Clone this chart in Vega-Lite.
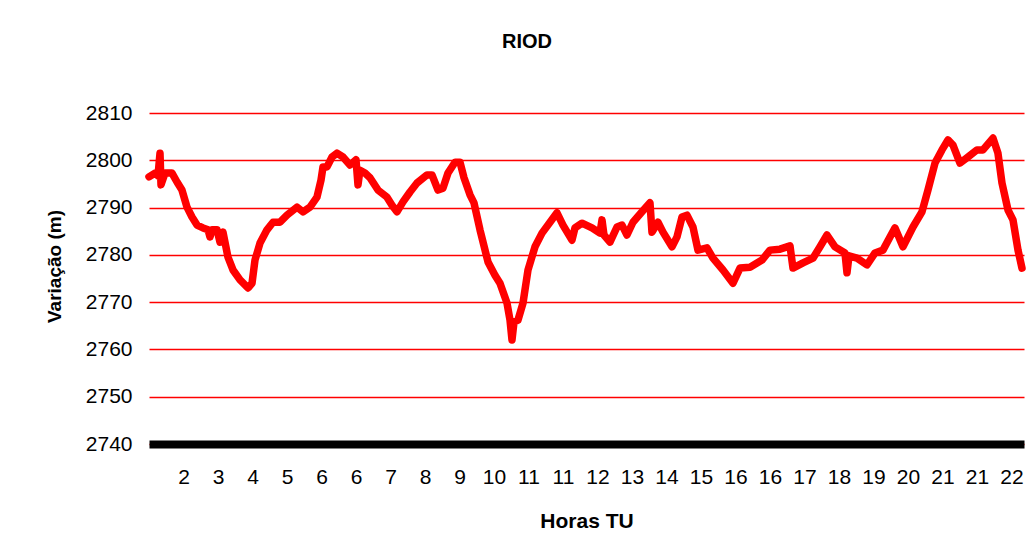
{
  "$schema": "https://vega.github.io/schema/vega-lite/v6.json",
  "width": 875,
  "height": 331,
  "autosize": {"type": "none"},
  "padding": {"left": 149, "top": 113, "right": 7, "bottom": 112},
  "background": "white",
  "config": {"view": {"stroke": null}, "font": "Liberation Sans"},
  "title": {"text": "RIOD", "fontSize": 20, "fontWeight": "bold", "font": "Liberation Sans", "color": "black", "anchor": "middle", "dx": -59.5, "baseline": "alphabetic", "offset": 34},
  "data": {"values": [
    {"hora": 1.820, "variacao": 2796.5},
    {"hora": 1.966, "variacao": 2797.3},
    {"hora": 2.039, "variacao": 2796.7},
    {"hora": 2.088, "variacao": 2801.5},
    {"hora": 2.112, "variacao": 2794.8},
    {"hora": 2.210, "variacao": 2797.3},
    {"hora": 2.380, "variacao": 2797.3},
    {"hora": 2.502, "variacao": 2795.4},
    {"hora": 2.623, "variacao": 2793.7},
    {"hora": 2.745, "variacao": 2790.1},
    {"hora": 2.867, "variacao": 2788.0},
    {"hora": 2.989, "variacao": 2786.3},
    {"hora": 3.135, "variacao": 2785.7},
    {"hora": 3.257, "variacao": 2785.3},
    {"hora": 3.305, "variacao": 2783.8},
    {"hora": 3.354, "variacao": 2785.3},
    {"hora": 3.476, "variacao": 2785.3},
    {"hora": 3.549, "variacao": 2782.7},
    {"hora": 3.622, "variacao": 2784.8},
    {"hora": 3.743, "variacao": 2779.5},
    {"hora": 3.865, "variacao": 2776.8},
    {"hora": 4.036, "variacao": 2774.7},
    {"hora": 4.230, "variacao": 2773.0},
    {"hora": 4.328, "variacao": 2774.0},
    {"hora": 4.401, "variacao": 2778.9},
    {"hora": 4.523, "variacao": 2782.5},
    {"hora": 4.693, "variacao": 2785.3},
    {"hora": 4.839, "variacao": 2786.9},
    {"hora": 5.010, "variacao": 2786.9},
    {"hora": 5.180, "variacao": 2788.4},
    {"hora": 5.424, "variacao": 2790.1},
    {"hora": 5.570, "variacao": 2789.1},
    {"hora": 5.740, "variacao": 2790.1},
    {"hora": 5.910, "variacao": 2792.2},
    {"hora": 6.008, "variacao": 2795.8},
    {"hora": 6.057, "variacao": 2798.6},
    {"hora": 6.154, "variacao": 2798.6},
    {"hora": 6.276, "variacao": 2800.7},
    {"hora": 6.397, "variacao": 2801.5},
    {"hora": 6.543, "variacao": 2800.7},
    {"hora": 6.714, "variacao": 2799.0},
    {"hora": 6.860, "variacao": 2800.1},
    {"hora": 6.909, "variacao": 2794.8},
    {"hora": 6.957, "variacao": 2797.9},
    {"hora": 7.079, "variacao": 2797.3},
    {"hora": 7.201, "variacao": 2796.3},
    {"hora": 7.396, "variacao": 2793.7},
    {"hora": 7.615, "variacao": 2792.2},
    {"hora": 7.737, "variacao": 2790.5},
    {"hora": 7.858, "variacao": 2789.1},
    {"hora": 8.004, "variacao": 2791.2},
    {"hora": 8.175, "variacao": 2793.3},
    {"hora": 8.345, "variacao": 2795.2},
    {"hora": 8.589, "variacao": 2796.9},
    {"hora": 8.710, "variacao": 2796.9},
    {"hora": 8.857, "variacao": 2793.7},
    {"hora": 8.978, "variacao": 2794.1},
    {"hora": 9.100, "variacao": 2797.3},
    {"hora": 9.271, "variacao": 2799.6},
    {"hora": 9.392, "variacao": 2799.6},
    {"hora": 9.490, "variacao": 2796.3},
    {"hora": 9.636, "variacao": 2792.7},
    {"hora": 9.733, "variacao": 2791.0},
    {"hora": 9.879, "variacao": 2785.3},
    {"hora": 10.074, "variacao": 2778.5},
    {"hora": 10.244, "variacao": 2775.7},
    {"hora": 10.366, "variacao": 2774.0},
    {"hora": 10.537, "variacao": 2769.8},
    {"hora": 10.610, "variacao": 2766.2},
    {"hora": 10.658, "variacao": 2762.0},
    {"hora": 10.707, "variacao": 2765.8},
    {"hora": 10.804, "variacao": 2766.2},
    {"hora": 10.926, "variacao": 2769.8},
    {"hora": 11.048, "variacao": 2776.8},
    {"hora": 11.218, "variacao": 2781.7},
    {"hora": 11.389, "variacao": 2784.6},
    {"hora": 11.584, "variacao": 2786.9},
    {"hora": 11.754, "variacao": 2788.9},
    {"hora": 11.900, "variacao": 2786.3},
    {"hora": 12.119, "variacao": 2783.1},
    {"hora": 12.192, "variacao": 2785.7},
    {"hora": 12.363, "variacao": 2786.7},
    {"hora": 12.606, "variacao": 2785.7},
    {"hora": 12.801, "variacao": 2784.6},
    {"hora": 12.850, "variacao": 2787.4},
    {"hora": 12.898, "variacao": 2784.2},
    {"hora": 13.044, "variacao": 2782.7},
    {"hora": 13.215, "variacao": 2785.9},
    {"hora": 13.337, "variacao": 2786.3},
    {"hora": 13.458, "variacao": 2784.2},
    {"hora": 13.604, "variacao": 2786.9},
    {"hora": 13.824, "variacao": 2789.1},
    {"hora": 14.018, "variacao": 2791.0},
    {"hora": 14.067, "variacao": 2784.8},
    {"hora": 14.213, "variacao": 2786.9},
    {"hora": 14.335, "variacao": 2784.8},
    {"hora": 14.554, "variacao": 2781.7},
    {"hora": 14.676, "variacao": 2783.8},
    {"hora": 14.798, "variacao": 2788.0},
    {"hora": 14.919, "variacao": 2788.4},
    {"hora": 15.065, "variacao": 2785.9},
    {"hora": 15.187, "variacao": 2781.0},
    {"hora": 15.406, "variacao": 2781.5},
    {"hora": 15.552, "variacao": 2779.3},
    {"hora": 15.796, "variacao": 2776.8},
    {"hora": 16.039, "variacao": 2774.0},
    {"hora": 16.210, "variacao": 2777.2},
    {"hora": 16.453, "variacao": 2777.4},
    {"hora": 16.746, "variacao": 2778.9},
    {"hora": 16.940, "variacao": 2781.0},
    {"hora": 17.184, "variacao": 2781.2},
    {"hora": 17.427, "variacao": 2781.9},
    {"hora": 17.500, "variacao": 2777.2},
    {"hora": 17.744, "variacao": 2778.3},
    {"hora": 17.987, "variacao": 2779.3},
    {"hora": 18.158, "variacao": 2781.7},
    {"hora": 18.328, "variacao": 2784.2},
    {"hora": 18.523, "variacao": 2781.7},
    {"hora": 18.766, "variacao": 2780.4},
    {"hora": 18.815, "variacao": 2776.2},
    {"hora": 18.864, "variacao": 2779.8},
    {"hora": 19.058, "variacao": 2779.3},
    {"hora": 19.302, "variacao": 2777.9},
    {"hora": 19.497, "variacao": 2780.4},
    {"hora": 19.691, "variacao": 2781.0},
    {"hora": 19.862, "variacao": 2783.8},
    {"hora": 19.984, "variacao": 2785.7},
    {"hora": 20.178, "variacao": 2781.7},
    {"hora": 20.422, "variacao": 2785.9},
    {"hora": 20.641, "variacao": 2789.1},
    {"hora": 20.787, "variacao": 2793.7},
    {"hora": 20.958, "variacao": 2799.4},
    {"hora": 21.128, "variacao": 2802.2},
    {"hora": 21.274, "variacao": 2804.3},
    {"hora": 21.396, "variacao": 2803.2},
    {"hora": 21.566, "variacao": 2799.4},
    {"hora": 21.761, "variacao": 2800.7},
    {"hora": 21.980, "variacao": 2802.2},
    {"hora": 22.126, "variacao": 2802.2},
    {"hora": 22.370, "variacao": 2804.7},
    {"hora": 22.491, "variacao": 2801.5},
    {"hora": 22.589, "variacao": 2795.2},
    {"hora": 22.735, "variacao": 2789.5},
    {"hora": 22.857, "variacao": 2787.4},
    {"hora": 22.979, "variacao": 2781.0},
    {"hora": 23.076, "variacao": 2777.2}
  ]},
  "mark": {"type": "line", "color": "#FF0000", "strokeWidth": 7.5, "strokeCap": "round", "strokeJoin": "round", "clip": false},
  "encoding": {
    "x": {
      "field": "hora", "type": "quantitative",
      "scale": {"domain": [1.82, 23.125], "nice": false, "zero": false},
      "axis": {
        "title": "Horas TU",
        "values": [2.66, 3.50, 4.34, 5.18, 6.02, 6.86, 7.70, 8.54, 9.38, 10.22, 11.06, 11.90, 12.74, 13.58, 14.42, 15.26, 16.10, 16.94, 17.78, 18.62, 19.46, 20.30, 21.14, 21.98, 22.82],
        "labelExpr": "'' + floor(datum.value)",
        "grid": false,
        "domain": true, "domainColor": "black", "domainWidth": 8,
        "ticks": false, "tickSize": 0,
        "labelPadding": 22.5, "labelFontSize": 21, "labelColor": "black", "labelFont": "Liberation Sans",
        "labelFlush": false, "labelOverlap": false,
        "titleFontSize": 21, "titleFontWeight": "bold", "titleColor": "black", "titleFont": "Liberation Sans",
        "titleY": 83, "titleBaseline": "alphabetic"
      }
    },
    "y": {
      "field": "variacao", "type": "quantitative",
      "scale": {"domain": [2740, 2810], "nice": false, "zero": false},
      "axis": {
        "title": "Variação (m)",
        "format": "d",
        "values": [2740, 2750, 2760, 2770, 2780, 2790, 2800, 2810],
        "grid": true, "gridColor": "#FF0000", "gridWidth": 1.5,
        "domain": false, "ticks": false, "tickSize": 0,
        "labelPadding": 17, "labelFontSize": 21, "labelColor": "black", "labelFont": "Liberation Sans",
        "titleFontSize": 19, "titleFontWeight": "bold", "titleColor": "black", "titleFont": "Liberation Sans",
        "titleX": -95, "titleY": 153, "titleAngle": 270, "titleAlign": "center", "titleBaseline": "middle"
      }
    }
  }
}
